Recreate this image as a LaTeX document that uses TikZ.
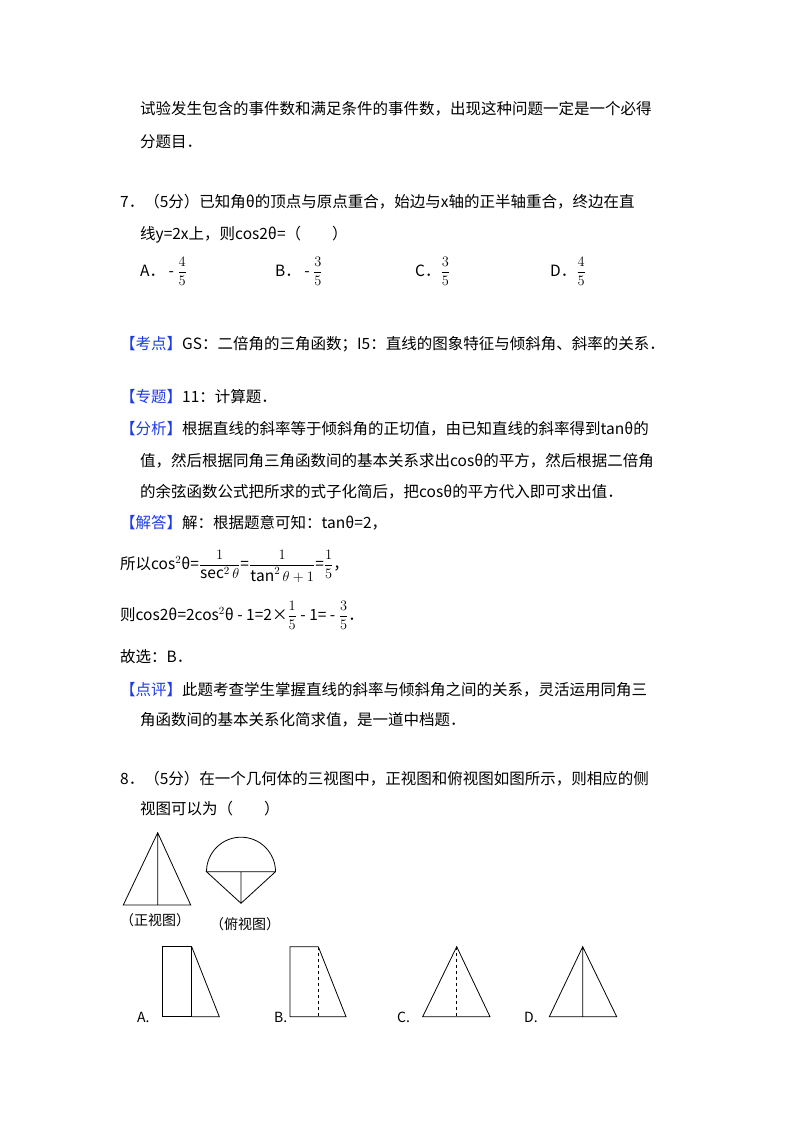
\documentclass[tikz,border=0pt]{standalone}
\usepackage{fontspec}
\setmainfont{Noto Sans CJK SC}
\usepackage{amsmath}
\definecolor{tagblue}{RGB}{30,60,230}
\begin{document}
\begin{tikzpicture}[x=1pt,y=-1pt,
  txt/.style={anchor=base west,inner sep=0pt,font=\fontsize{15.5}{16}\selectfont},
  lbl/.style={anchor=base west,inner sep=0pt,font=\fontsize{14}{16}\selectfont},
  fig/.style={line width=0.8pt},
  tag/.style={text=tagblue}]
\useasboundingbox (0,0) rectangle (800,1132);
\node[txt] (l1) at (140,114) {试验发生包含的事件数和满足条件的事件数，出现这种问题一定是一个必得};
\node[txt] (l2) at (140,147) {分题目．};
\node[txt] (q7a) at (120,207) {7．（5分）已知角θ的顶点与原点重合，始边与x轴的正半轴重合，终边在直};
\node[txt] (q7b) at (140,239) {线y=2x上，则cos2θ=（　　）};
\node[txt] (oa) at (140,276) {A．\ - $\dfrac{4}{5}$};
\node[txt] (ob) at (275,276) {B．\ - $\dfrac{3}{5}$};
\node[txt] (oc) at (415,276) {C．$\dfrac{3}{5}$};
\node[txt] (od) at (550,276) {D．$\dfrac{4}{5}$};
\node[txt] (kd) at (120,349) {\textcolor{tagblue}{【考点】}GS：二倍角的三角函数；I5：直线的图象特征与倾斜角、斜率的关系．};
\node[txt] (zt) at (120,402) {\textcolor{tagblue}{【专题】}11：计算题．};
\node[txt] (fx1) at (120,434) {\textcolor{tagblue}{【分析】}根据直线的斜率等于倾斜角的正切值，由已知直线的斜率得到tanθ的};
\node[txt] (fx2) at (140,466) {值，然后根据同角三角函数间的基本关系求出cosθ的平方，然后根据二倍角};
\node[txt] (fx3) at (140,497) {的余弦函数公式把所求的式子化简后，把cosθ的平方代入即可求出值．};
\node[txt] (jd) at (120,528) {\textcolor{tagblue}{【解答】}解：根据题意可知：tanθ=2，};
\node[txt] (s1) at (120,569) {所以cos$^2$θ=$\dfrac{1}{\sec^2\theta}$=$\dfrac{1}{\tan^2\theta+1}$=$\dfrac{1}{5}$，};
\node[txt] (s2) at (120,620) {则cos2θ=2cos$^2$θ - 1=2×$\dfrac{1}{5}$ - 1= - $\dfrac{3}{5}$．};
\node[txt] (gx) at (120,662) {故选：B．};
\node[txt] (dp1) at (120,695) {\textcolor{tagblue}{【点评】}此题考查学生掌握直线的斜率与倾斜角之间的关系，灵活运用同角三};
\node[txt] (dp2) at (140,725) {角函数间的基本关系化简求值，是一道中档题．};
\node[txt] (q8a) at (120,784) {8．（5分）在一个几何体的三视图中，正视图和俯视图如图所示，则相应的侧};
\node[txt] (q8b) at (140,814) {视图可以为（　　）};
% front view
\coordinate (fa) at (157.7,832.7);
\coordinate (fl) at (123.3,905);
\coordinate (fr) at (190.7,905);
\coordinate (fm) at (157.7,905);
\draw[fig] (fl) -- (fa) -- (fr) -- cycle (fa) -- (fm);
% top view
\coordinate (tc) at (241,871.7);
\coordinate (tl) at (206.5,871.7);
\coordinate (tr) at (275.5,871.7);
\coordinate (tb) at (241,903.3);
\draw[fig] (tl) arc[start angle=180,end angle=360,radius=34.5] -- (tl) -- (tb) -- (tr) (tc) -- (tb);
\node[lbl] (lf) at (120,925) {（正视图）};
\node[lbl] (lt) at (210,929) {（俯视图）};
% A
\draw[fig] (162.7,946.7) rectangle (191.7,1016.7);
\draw[fig] (191.7,946.7) -- (219.3,1016.7) -- (191.7,1016.7);
% B
\draw[fig] (318.3,946.7) -- (290,946.7) -- (290,1016.7) -- (346,1016.7) -- (318.3,946.7);
\draw[fig,dashed] (318.3,946.7) -- (318.3,1016.7);
% C
\draw[fig] (422.7,1016.7) -- (456.7,946.7) -- (490,1016.7) -- cycle;
\draw[fig,dashed] (456.7,946.7) -- (456.7,1016.7);
% D
\draw[fig] (549.3,1016.7) -- (582.7,946.7) -- (616.7,1016.7) -- cycle (582.7,946.7) -- (582.7,1016.7);
\node[lbl] (la) at (137,1022) {A.};
\node[lbl] (lb) at (274,1022) {B.};
\node[lbl] (lc) at (397,1022) {C.};
\node[lbl] (ld) at (524,1022) {D.};
\end{tikzpicture}
\end{document}
